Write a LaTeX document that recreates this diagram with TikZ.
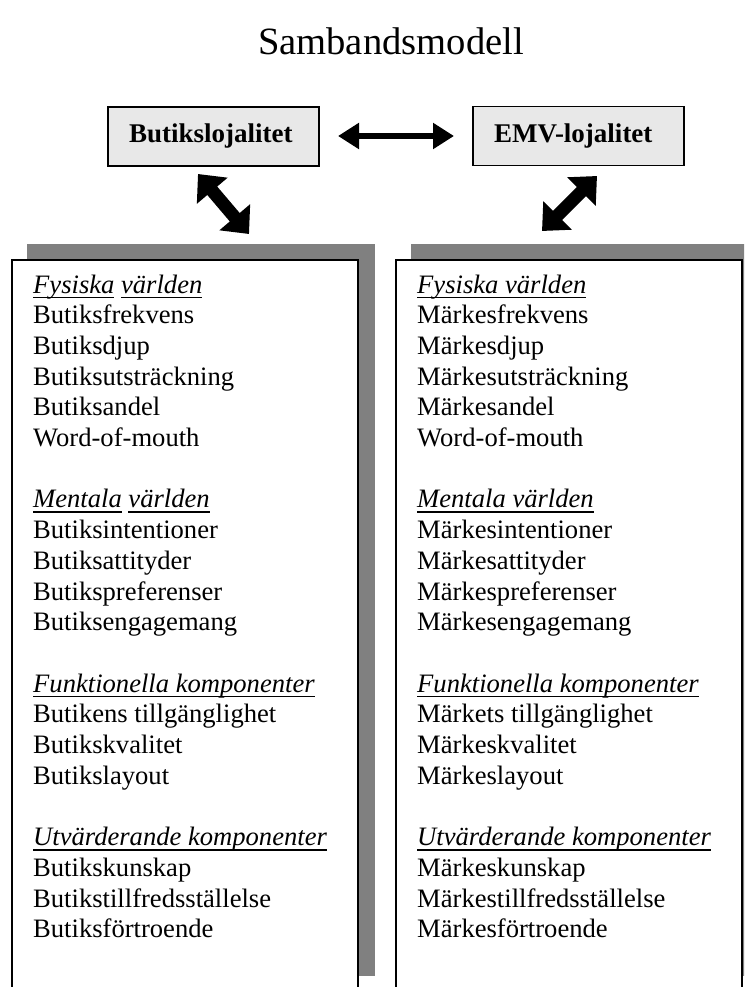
\documentclass[tikz,border=0pt]{standalone}
\usepackage{fontspec}
\setmainfont{Liberation Serif}
\usetikzlibrary{arrows.meta}
\definecolor{shadowgray}{HTML}{808080}
\definecolor{keyfill}{HTML}{E8E8E8}
% underline at a fixed depth, independent of descenders
\newcommand\wordline[1]{\setbox0=\hbox{#1}\rlap{\rule[-5pt]{\wd0}{1.5pt}}\box0\relax}
\tikzset{
  keybox/.style={draw, line width=1.4pt, fill=keyfill, minimum height=59pt,
    inner xsep=21pt, text width=169pt, align=left,
    font=\bfseries\fontsize{27}{32}\selectfont},
  panel/.style={draw, line width=1.5pt, fill=white, inner sep=0pt},
  panelshadow/.style={fill=shadowgray},
  listtext/.style={anchor=base west, inner sep=0pt,
    font=\fontsize{26.6}{30.7}\selectfont},
  hlink/.style={line width=5.3pt,
    {Triangle[width=25pt,length=21pt]}-{Triangle[width=25pt,length=21pt]}},
  dlink/.style={line width=13pt,
    {Triangle[width=39pt,length=22pt]}-{Triangle[width=39pt,length=22pt]}}
}
\begin{document}
\begin{tikzpicture}[x=1pt,y=-1pt]
\clip (0,0) rectangle (744,987);
\fill[white] (0,0) rectangle (744,987);

% title
\node[anchor=base, inner sep=0pt, font=\fontsize{38.6}{46}\selectfont] (title) at (391,55) {Sambandsmodell};

% loyalty boxes
\node[keybox] (store) at (213.5,136.5) {Butikslojalitet};
\node[keybox] (brand) at (578.5,136) {EMV-lojalitet};

% panels with shadows
\fill[panelshadow] (27,244) rectangle (375,976);
\fill[panelshadow] (411,244) rectangle (760,976);
\node[panel, minimum width=346pt, minimum height=732pt] (lpanel) at (185,626) {};
\node[panel, minimum width=346pt, minimum height=732pt] (rpanel) at (569,626) {};

% connector end points
\coordinate (h1) at (338,136);
\coordinate (h2) at (454,136);
\coordinate (l1) at (198,174);
\coordinate (l2) at (249,234);
\coordinate (r1) at (597,176);
\coordinate (r2) at (542,231);

\draw[hlink] (h1) -- (h2);
\draw[dlink] (l1) -- (l2);
\draw[dlink] (r1) -- (r2);

% panel contents
\node[listtext] (ltext) at (33,293) {\begin{tabular}[t]{@{}l@{}}
\textit{\wordline{Fysiska} \wordline{världen}}\\
Butiksfrekvens\\
Butiksdjup\\
Butiksutsträckning\\
Butiksandel\\
Word-of-mouth\\
\\
\textit{\wordline{Mentala} \wordline{världen}}\\
Butiksintentioner\\
Butiksattityder\\
Butikspreferenser\\
Butiksengagemang\\
\\
\textit{\wordline{Funktionella komponenter}}\\
Butikens tillgänglighet\\
Butikskvalitet\\
Butikslayout\\
\\
\textit{\wordline{Utvärderande komponenter}}\\
Butikskunskap\\
Butikstillfredsställelse\\
Butiksförtroende
\end{tabular}};

\node[listtext] (rtext) at (417,293) {\begin{tabular}[t]{@{}l@{}}
\textit{\wordline{Fysiska världen}}\\
Märkesfrekvens\\
Märkesdjup\\
Märkesutsträckning\\
Märkesandel\\
Word-of-mouth\\
\\
\textit{\wordline{Mentala världen}}\\
Märkesintentioner\\
Märkesattityder\\
Märkespreferenser\\
Märkesengagemang\\
\\
\textit{\wordline{Funktionella komponenter}}\\
Märkets tillgänglighet\\
Märkeskvalitet\\
Märkeslayout\\
\\
\textit{\wordline{Utvärderande komponenter}}\\
Märkeskunskap\\
Märkestillfredsställelse\\
Märkesförtroende
\end{tabular}};
\end{tikzpicture}
\end{document}
